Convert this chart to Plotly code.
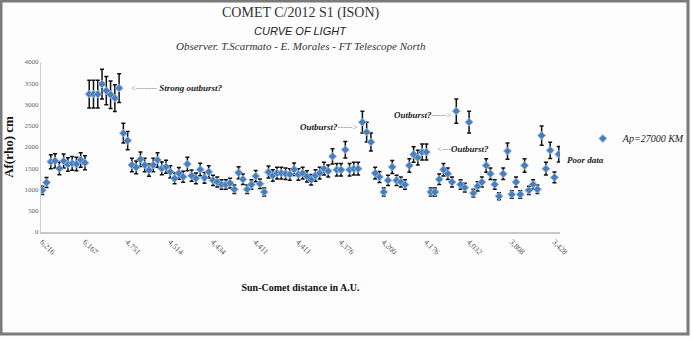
import plotly.graph_objects as go

# Af(rho) values (cm), one per observation, in observation order
afrho = [980, 1165, 1655, 1675, 1495, 1670, 1590, 1615, 1600, 1695,
         1630, 3245, 3245, 3245, 3480, 3325, 3230, 3150, 3385, 2325,
         2150, 1575, 1520, 1710, 1575, 1455, 1575, 1695, 1495, 1535,
         1415, 1260, 1380, 1300, 1600, 1325, 1260, 1470, 1275, 1415,
         1215, 1175, 1115, 1115, 1150, 1005, 1395, 1240, 1005, 1115,
         1315, 1135, 940, 1410, 1330, 1385, 1385, 1370, 1355, 1475,
         1355, 1385, 1310, 1230, 1330, 1385, 1490, 1435, 1780, 1465,
         1465, 1935, 1465, 1490, 1490, 2585, 2350, 2115, 1385, 1295,
         940, 1215, 1530, 1215, 1175, 1115, 1565, 1825, 1750, 1880,
         1880, 940, 940, 1240, 1465, 1370, 1175, 2845, 1120, 1045,
         2585, 915, 1075, 1175, 1565, 1370, 1120, 840, 1370, 1905,
         885, 1175, 885, 1565, 980, 1120, 1005, 2270, 1490, 1920,
         1285, 1830]

# Sun-comet distance labels shown every 10th observation
dist_labels = ["6,216", "6,167", "4,751", "4,514", "4,434", "4,411", "4,411",
               "4,376", "4,200", "4,176", "4,032", "3,808", "3,428"]

y_ticks = [0, 500, 1000, 1500, 2000, 2500, 3000, 3500, 4000]

obs = list(range(len(afrho)))
tick_step = 10

serif = "Liberation Serif, DejaVu Serif, serif"

fig = go.Figure()
fig.add_trace(go.Scatter(
    x=obs, y=afrho, mode="markers", name="<i>Ap=27000 KM</i>",
    marker=dict(symbol="diamond", size=6, color="#4a7ebb",
                line=dict(color="#8db3e2", width=1)),
    error_y=dict(type="percent", value=10, color="#111111",
                 thickness=1.5, width=2),
))

fig.update_layout(
    width=692, height=340,
    margin=dict(l=41, r=132, t=62, b=108, autoexpand=False),
    paper_bgcolor="#fdfdfd", plot_bgcolor="#fdfdfd",
    showlegend=True,
    legend=dict(x=1.044, y=0.55, xanchor="left", yanchor="middle",
                font=dict(family=serif, size=10, color="#222"),
                bgcolor="rgba(0,0,0,0)", itemwidth=30),
    font=dict(family=serif),
)
fig.update_xaxes(
    range=[-0.3, len(afrho) - 1 + 0.3],
    tickvals=list(range(0, len(afrho), tick_step))[:len(dist_labels)],
    ticktext=dist_labels,
    tickangle=45, tickfont=dict(family=serif, size=8, color="#555"),
    showgrid=False, zeroline=False,
    showline=True, linecolor="#c8c8c8", linewidth=2, ticks="",
    title=dict(text="<b>Sun-Comet distance in A.U.</b>",
               font=dict(family=serif, size=10, color="#111"), standoff=28),
)
fig.update_yaxes(
    range=[0, 4000], tickvals=y_ticks,
    tickfont=dict(family=serif, size=7, color="#666"),
    showgrid=False, zeroline=False,
    showline=True, linecolor="#d0d0d0", linewidth=1, ticks="",
    title=dict(text="<b>Af(rho) cm</b>",
               font=dict(family=serif, size=13, color="#111"), standoff=8),
)

# Titles
fig.add_annotation(xref="paper", yref="paper", x=0.5, y=1.0,
                   xanchor="center", yanchor="bottom", yshift=39,
                   text="COMET C/2012 S1 (ISON)", showarrow=False,
                   font=dict(family=serif, size=14, color="#333"))
fig.add_annotation(xref="paper", yref="paper", x=0.5, y=1.0,
                   xanchor="center", yanchor="bottom", yshift=23,
                   text="<i>CURVE OF LIGHT</i>", showarrow=False,
                   font=dict(family="Liberation Sans, sans-serif", size=11, color="#222"))
fig.add_annotation(xref="paper", yref="paper", x=0.5, y=1.0,
                   xanchor="center", yanchor="bottom", yshift=8,
                   text="<i>Observer. T.Scarmato - E. Morales - FT Telescope North</i>",
                   showarrow=False,
                   font=dict(family=serif, size=11, color="#333"))

# Text notes on the chart
notes = [
    (20.2, 3390, "left", 0, "<span style='color:#888'>&lt;------- </span><b><i>Strong outburst?</i></b>"),
    (74.5, 2480, "right", 0, "<b><i>Outburst?</i></b><span style='color:#888'>-----&gt;</span>"),
    (96.5, 2760, "right", 0, "<b><i>Outburst?</i></b><span style='color:#888'>-----&gt;</span>"),
    (92.0, 1960, "left", 0, "<span style='color:#888'>&lt;---</span><b><i>Outburst?</i></b>"),
    (121.0, 1690, "left", 6, "<b><i>Poor data</i></b>"),
]
for xv, yv, anc, xs, txt in notes:
    fig.add_annotation(x=xv, y=yv, xanchor=anc, yanchor="middle", text=txt,
                       xshift=xs, showarrow=False,
                       font=dict(family=serif, size=9, color="#222"))

# Outer frame
fig.add_shape(type="rect", xref="paper", yref="paper",
              x0=-40/519, x1=1 + 128/519, y0=-102/170, y1=1 + 61/170,
              line=dict(color="#7a7a7a", width=3), fillcolor="rgba(0,0,0,0)")

fig.write_html("out.html")
